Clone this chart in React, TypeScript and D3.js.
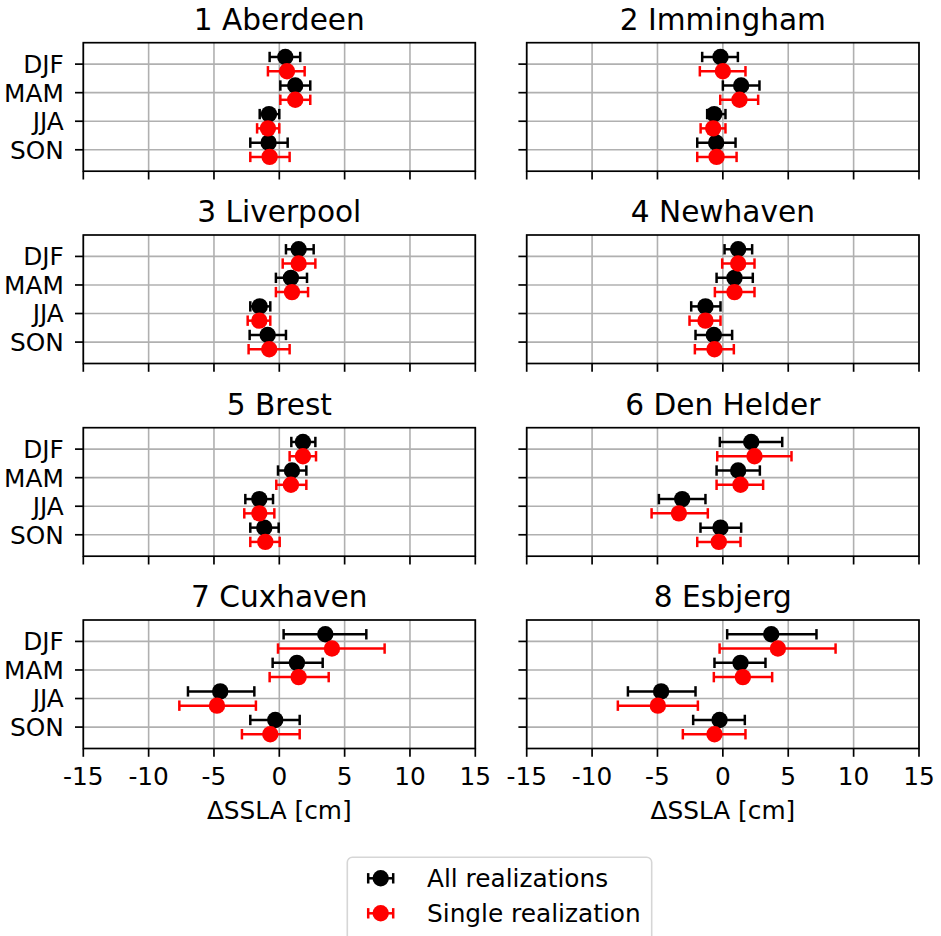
import React from "react";
import * as d3 from "d3";

const seasons = ["DJF", "MAM", "JJA", "SON"];
const stations = ["1 Aberdeen", "2 Immingham", "3 Liverpool", "4 Newhaven", "5 Brest", "6 Den Helder", "7 Cuxhaven", "8 Esbjerg"];
const xTicks = [-15, -10, -5, 0, 5, 10, 15];

// All realizations: mean, lower bound, upper bound (per station, per season)
const allMean = [
  [0.46, 1.22, -0.79, -0.82],
  [-0.18, 1.4, -0.66, -0.51],
  [1.48, 0.89, -1.5, -0.89],
  [1.17, 0.89, -1.33, -0.69],
  [1.81, 0.97, -1.53, -1.15],
  [2.17, 1.17, -3.11, -0.18],
  [3.52, 1.35, -4.52, -0.31],
  [3.7, 1.35, -4.72, -0.25],
];
const allLo = [
  [-0.74, 0.08, -1.5, -2.22],
  [-1.58, 0.0, -1.2, -1.96],
  [0.51, -0.26, -2.22, -2.27],
  [0.13, -0.48, -2.42, -2.09],
  [0.92, -0.1, -2.6, -2.22],
  [-0.23, -0.48, -4.89, -1.71],
  [0.33, -0.51, -6.99, -2.22],
  [0.33, -0.64, -7.26, -2.27],
];
const allHi = [
  [1.6, 2.37, 0.0, 0.64],
  [1.15, 2.8, 0.2, 0.97],
  [2.63, 2.12, -0.69, 0.51],
  [2.24, 2.29, -0.18, 0.71],
  [2.76, 2.07, -0.48, -0.05],
  [4.54, 2.83, -1.33, 1.4],
  [6.66, 3.32, -1.91, 1.56],
  [7.16, 3.26, -2.09, 1.68],
];

// Single realization
const singleMean = [
  [0.59, 1.22, -0.87, -0.74],
  [0.0, 1.27, -0.74, -0.48],
  [1.48, 0.97, -1.53, -0.77],
  [1.17, 0.89, -1.33, -0.64],
  [1.81, 0.89, -1.53, -1.07],
  [2.42, 1.35, -3.36, -0.31],
  [4.03, 1.48, -4.77, -0.69],
  [4.21, 1.53, -4.97, -0.64],
];
const singleLo = [
  [-0.87, 0.08, -1.7, -2.22],
  [-1.76, -0.2, -1.7, -1.96],
  [0.26, -0.26, -2.42, -2.35],
  [-0.05, -0.61, -2.55, -2.14],
  [0.79, -0.23, -2.68, -2.22],
  [-0.43, -0.48, -5.45, -1.96],
  [-0.1, -0.74, -7.65, -2.86],
  [-0.25, -0.69, -8.03, -3.06],
];
const singleHi = [
  [1.94, 2.37, 0.0, 0.79],
  [1.73, 2.7, 0.2, 1.05],
  [2.76, 2.2, -0.69, 0.79],
  [2.42, 2.42, -0.18, 0.84],
  [2.81, 2.07, -0.38, 0.03],
  [5.25, 3.08, -1.15, 1.35],
  [8.06, 3.78, -1.79, 1.56],
  [8.62, 3.77, -1.91, 1.73],
];

const seriesNames = ["All realizations", "Single realization"];
const seriesColors = ["#000000", "#ff0000"];

const W = 941;
const H = 936;
const colX = [[83.3, 475.3], [526.7, 919]];
const rowTop = [42.7, 235, 427.7, 620];
const axH = 128.5;
const FONT = "DejaVu Sans, sans-serif";
const FS = 24.8;
const TFS = 29.6;
const R = 8.2;
const CAP = 5.2;
const EW = 2.5;

function Panel({ idx }: { idx: number }) {
  const col = idx % 2;
  const row = Math.floor(idx / 2);
  const [x0, x1] = colX[col];
  const top = rowTop[row];
  const bottom = top + axH;
  const x = d3.scaleLinear().domain([-15, 15]).range([x0, x1]);
  const y = d3.scaleLinear().domain([-0.75, 3.75]).range([top, bottom]);
  const series = [
    { mean: allMean[idx], lo: allLo[idx], hi: allHi[idx], off: -0.25, color: seriesColors[0] },
    { mean: singleMean[idx], lo: singleLo[idx], hi: singleHi[idx], off: 0.25, color: seriesColors[1] },
  ];
  return (
    <g>
      <text x={(x0 + x1) / 2} y={top - 12.7} textAnchor="middle" fontSize={TFS} fontFamily={FONT} fill="#000">
        {stations[idx]}
      </text>
      {/* grid */}
      {xTicks.map((t) => (
        <line key={"gx" + t} x1={x(t)} x2={x(t)} y1={top} y2={bottom} stroke="#b0b0b0" strokeWidth={1.6} />
      ))}
      {seasons.map((s, i) => (
        <line key={"gy" + s} x1={x0} x2={x1} y1={y(i)} y2={y(i)} stroke="#b0b0b0" strokeWidth={1.6} />
      ))}
      {/* data */}
      {series.map((se, si) => (
        <g key={"s" + si}>
          {seasons.map((s, i) => {
            const yy = y(i + se.off);
            const xl = x(se.lo[i]);
            const xh = x(se.hi[i]);
            return (
              <g key={s}>
                <line x1={xl} x2={xh} y1={yy} y2={yy} stroke={se.color} strokeWidth={EW} />
                <line x1={xl} x2={xl} y1={yy - CAP} y2={yy + CAP} stroke={se.color} strokeWidth={EW} />
                <line x1={xh} x2={xh} y1={yy - CAP} y2={yy + CAP} stroke={se.color} strokeWidth={EW} />
                <circle cx={x(se.mean[i])} cy={yy} r={R} fill={se.color} />
              </g>
            );
          })}
        </g>
      ))}
      {/* spines */}
      <rect x={x0} y={top} width={x1 - x0} height={axH} fill="none" stroke="#000" strokeWidth={1.7} />
      {/* x ticks */}
      {xTicks.map((t) => (
        <g key={"xt" + t}>
          <line x1={x(t)} x2={x(t)} y1={bottom} y2={bottom + 8.3} stroke="#000" strokeWidth={1.7} />
          {row === 3 && (
            <text x={x(t)} y={bottom + 36} textAnchor="middle" fontSize={FS} fontFamily={FONT} fill="#000">
              {String(t)}
            </text>
          )}
        </g>
      ))}
      {/* y ticks */}
      {seasons.map((s, i) => (
        <g key={"yt" + s}>
          <line x1={x0 - 8.3} x2={x0} y1={y(i)} y2={y(i)} stroke="#000" strokeWidth={1.7} />
          {col === 0 && (
            <text x={x0 - 19.5} y={y(i)} dy="0.36em" textAnchor="end" fontSize={FS} fontFamily={FONT} fill="#000">
              {s}
            </text>
          )}
        </g>
      ))}
      {row === 3 && (
        <text x={(x0 + x1) / 2} y={819.3} textAnchor="middle" fontSize={FS} fontFamily={FONT} fill="#000">
          ΔSSLA [cm]
        </text>
      )}
    </g>
  );
}

function Legend() {
  const lx = 347.3;
  const ly = 857.3;
  const ys = [878.3, 913.3];
  const mx = 380.7;
  return (
    <g>
      <rect x={lx} y={ly} width={651.7 - lx} height={110} rx={5} ry={5} fill="#fff" fillOpacity={0.8} stroke="#d6d6d6" strokeWidth={1.6} />
      {seriesNames.map((n, i) => (
        <g key={n}>
          <line x1={mx - 12.5} x2={mx + 12.5} y1={ys[i]} y2={ys[i]} stroke={seriesColors[i]} strokeWidth={EW} />
          <line x1={mx - 12.5} x2={mx - 12.5} y1={ys[i] - CAP} y2={ys[i] + CAP} stroke={seriesColors[i]} strokeWidth={EW} />
          <line x1={mx + 12.5} x2={mx + 12.5} y1={ys[i] - CAP} y2={ys[i] + CAP} stroke={seriesColors[i]} strokeWidth={EW} />
          <circle cx={mx} cy={ys[i]} r={R} fill={seriesColors[i]} />
          <text x={427} y={ys[i]} dy="0.36em" fontSize={FS} fontFamily={FONT} fill="#000">
            {n}
          </text>
        </g>
      ))}
    </g>
  );
}

export default function App() {
  return (
    <svg
      width={W}
      height={H}
      viewBox={`0 0 ${W} ${H}`}
      style={{ position: "absolute", left: 0, top: 0, background: "#fff" }}
    >
      <rect x={0} y={0} width={W} height={H} fill="#fff" />
      {stations.map((s, i) => (
        <Panel key={s} idx={i} />
      ))}
      <Legend />
    </svg>
  );
}
